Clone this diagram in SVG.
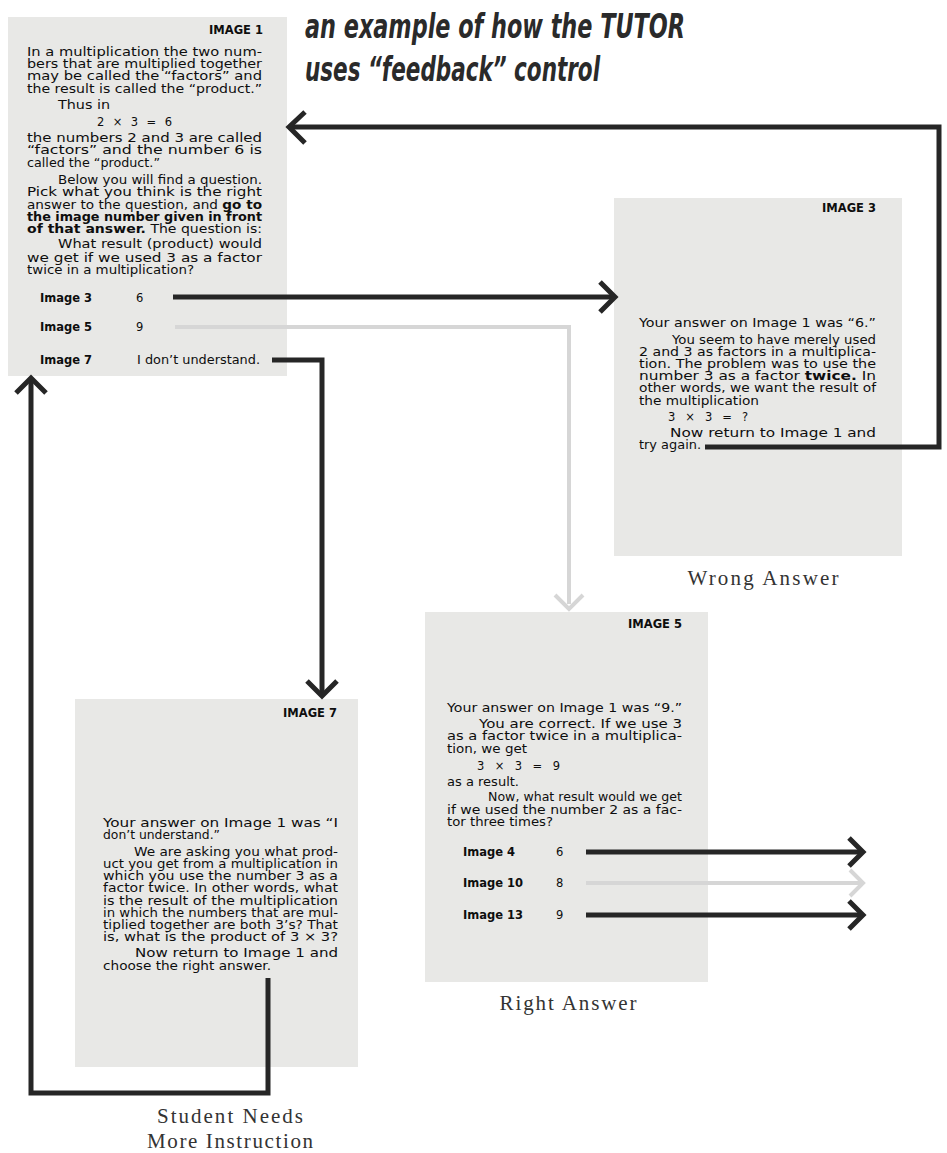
<svg xmlns="http://www.w3.org/2000/svg" width="947" height="1153" viewBox="0 0 947 1153">
<style>
.panel{fill:#e8e8e6}
.t{font-family:"DejaVu Sans","Liberation Sans",sans-serif;font-size:11.5px;fill:#0e0e0e}
.b{font-weight:bold}
.hd{font-family:"DejaVu Sans","Liberation Sans",sans-serif;font-size:11.5px;font-weight:bold;fill:#0e0e0e;text-anchor:end}
.cap{font-family:"Liberation Serif",serif;font-size:21px;fill:#333;text-anchor:middle}
.title{font-family:"Liberation Sans Narrow","DejaVu Sans Condensed","Liberation Sans",sans-serif;font-size:33px;font-style:italic;font-weight:bold;fill:#2a2a2a}
.ln{fill:none;stroke:#262626;stroke-width:5;stroke-linejoin:miter}
.fd{fill:none;stroke:#d6d6d6;stroke-width:4;stroke-linejoin:miter}
</style>
<rect width="947" height="1153" fill="#ffffff"/>
<g id="title">
<text class="title" x="305" y="38" textLength="380" lengthAdjust="spacingAndGlyphs">an example of how the TUTOR</text>
<text class="title" x="305" y="81" textLength="295" lengthAdjust="spacingAndGlyphs">uses “feedback” control</text>
</g>
<g id="image1">
<rect class="panel" x="8" y="17" width="279" height="359"/>
<text class="hd" x="263" y="34">IMAGE 1</text>
<text class="t" x="27" y="56" textLength="235" lengthAdjust="spacingAndGlyphs">In a multiplication the two num-</text>
<text class="t" x="27" y="68" textLength="235" lengthAdjust="spacingAndGlyphs">bers that are multiplied together</text>
<text class="t" x="27" y="80" textLength="235" lengthAdjust="spacingAndGlyphs">may be called the “factors” and</text>
<text class="t" x="27" y="93" textLength="235" lengthAdjust="spacingAndGlyphs">the result is called the “product.”</text>
<text class="t" x="58" y="109" textLength="52" lengthAdjust="spacingAndGlyphs">Thus in</text>
<text class="t" x="97" y="126" textLength="75" lengthAdjust="spacing">2 × 3 = 6</text>
<text class="t" x="27" y="142" textLength="235" lengthAdjust="spacingAndGlyphs">the numbers 2 and 3 are called</text>
<text class="t" x="27" y="154" textLength="235" lengthAdjust="spacingAndGlyphs">“factors” and the number 6 is</text>
<text class="t" x="27" y="167" textLength="133" lengthAdjust="spacingAndGlyphs">called the “product.”</text>
<text class="t" x="58" y="184" textLength="204" lengthAdjust="spacingAndGlyphs">Below you will find a question.</text>
<text class="t" x="27" y="196" textLength="235" lengthAdjust="spacingAndGlyphs">Pick what you think is the right</text>
<text class="t" x="27" y="209" textLength="235" lengthAdjust="spacingAndGlyphs">answer to the question, and <tspan class="b">go to</tspan></text>
<text class="t b" x="27" y="221" textLength="235" lengthAdjust="spacingAndGlyphs">the image number given in front</text>
<text class="t" x="27" y="233" textLength="235" lengthAdjust="spacingAndGlyphs"><tspan class="b">of that answer.</tspan> The question is:</text>
<text class="t" x="58" y="248" textLength="204" lengthAdjust="spacingAndGlyphs">What result (product) would</text>
<text class="t" x="27" y="262" textLength="235" lengthAdjust="spacingAndGlyphs">we get if we used 3 as a factor</text>
<text class="t" x="27" y="274" textLength="167" lengthAdjust="spacingAndGlyphs">twice in a multiplication?</text>
<text class="t b" x="40" y="302">Image 3</text>
<text class="t" x="136" y="302">6</text>
<text class="t b" x="40" y="331">Image 5</text>
<text class="t" x="136" y="331">9</text>
<text class="t b" x="40" y="364">Image 7</text>
<text class="t" x="137" y="364" textLength="123" lengthAdjust="spacingAndGlyphs">I don’t understand.</text>
</g>
<g id="image3">
<rect class="panel" x="614" y="198" width="288" height="358"/>
<text class="hd" x="876" y="212">IMAGE 3</text>
<text class="t" x="639" y="327" textLength="237" lengthAdjust="spacingAndGlyphs">Your answer on Image 1 was “6.”</text>
<text class="t" x="672" y="344" textLength="204" lengthAdjust="spacingAndGlyphs">You seem to have merely used</text>
<text class="t" x="639" y="356" textLength="237" lengthAdjust="spacingAndGlyphs">2 and 3 as factors in a multiplica-</text>
<text class="t" x="639" y="368" textLength="237" lengthAdjust="spacingAndGlyphs">tion. The problem was to use the</text>
<text class="t" x="639" y="380" textLength="237" lengthAdjust="spacingAndGlyphs">number 3 as a factor <tspan class="b">twice.</tspan> In</text>
<text class="t" x="639" y="392" textLength="237" lengthAdjust="spacingAndGlyphs">other words, we want the result of</text>
<text class="t" x="639" y="405" textLength="120" lengthAdjust="spacingAndGlyphs">the multiplication</text>
<text class="t" x="668" y="421" textLength="80" lengthAdjust="spacing">3 × 3 = ?</text>
<text class="t" x="670" y="437" textLength="206" lengthAdjust="spacingAndGlyphs">Now return to Image 1 and</text>
<text class="t" x="639" y="449" textLength="62" lengthAdjust="spacingAndGlyphs">try again.</text>
<text class="cap" x="763" y="585" textLength="151" lengthAdjust="spacing">Wrong Answer</text>
</g>
<g id="image5">
<rect class="panel" x="425" y="612" width="283" height="370"/>
<text class="hd" x="682" y="628">IMAGE 5</text>
<text class="t" x="447" y="712" textLength="235" lengthAdjust="spacingAndGlyphs">Your answer on Image 1 was “9.”</text>
<text class="t" x="479" y="728" textLength="203" lengthAdjust="spacingAndGlyphs">You are correct. If we use 3</text>
<text class="t" x="447" y="740" textLength="235" lengthAdjust="spacingAndGlyphs">as a factor twice in a multiplica-</text>
<text class="t" x="447" y="753" textLength="80" lengthAdjust="spacingAndGlyphs">tion, we get</text>
<text class="t" x="477" y="770" textLength="83" lengthAdjust="spacing">3 × 3 = 9</text>
<text class="t" x="447" y="786" textLength="72" lengthAdjust="spacingAndGlyphs">as a result.</text>
<text class="t" x="488" y="801" textLength="194" lengthAdjust="spacingAndGlyphs">Now, what result would we get</text>
<text class="t" x="447" y="814" textLength="235" lengthAdjust="spacingAndGlyphs">if we used the number 2 as a fac-</text>
<text class="t" x="447" y="826" textLength="106" lengthAdjust="spacingAndGlyphs">tor three times?</text>
<text class="t b" x="463" y="856">Image 4</text>
<text class="t" x="556" y="856">6</text>
<text class="t b" x="463" y="887">Image 10</text>
<text class="t" x="556" y="887">8</text>
<text class="t b" x="463" y="919">Image 13</text>
<text class="t" x="556" y="919">9</text>
<text class="cap" x="568" y="1010" textLength="137" lengthAdjust="spacing">Right Answer</text>
</g>
<g id="image7">
<rect class="panel" x="75" y="699" width="283" height="368"/>
<text class="hd" x="337" y="717">IMAGE 7</text>
<text class="t" x="103" y="827" textLength="235" lengthAdjust="spacingAndGlyphs">Your answer on Image 1 was “I</text>
<text class="t" x="103" y="839" textLength="117" lengthAdjust="spacingAndGlyphs">don’t understand.”</text>
<text class="t" x="134" y="856" textLength="204" lengthAdjust="spacingAndGlyphs">We are asking you what prod-</text>
<text class="t" x="103" y="868" textLength="235" lengthAdjust="spacingAndGlyphs">uct you get from a multiplication in</text>
<text class="t" x="103" y="880" textLength="235" lengthAdjust="spacingAndGlyphs">which you use the number 3 as a</text>
<text class="t" x="103" y="892" textLength="235" lengthAdjust="spacingAndGlyphs">factor twice. In other words, what</text>
<text class="t" x="103" y="905" textLength="235" lengthAdjust="spacingAndGlyphs">is the result of the multiplication</text>
<text class="t" x="103" y="917" textLength="235" lengthAdjust="spacingAndGlyphs">in which the numbers that are mul-</text>
<text class="t" x="103" y="929" textLength="235" lengthAdjust="spacingAndGlyphs">tiplied together are both 3’s? That</text>
<text class="t" x="103" y="941" textLength="235" lengthAdjust="spacingAndGlyphs">is, what is the product of 3 × 3?</text>
<text class="t" x="135" y="957" textLength="203" lengthAdjust="spacingAndGlyphs">Now return to Image 1 and</text>
<text class="t" x="103" y="970" textLength="168" lengthAdjust="spacingAndGlyphs">choose the right answer.</text>
<text class="cap" x="230" y="1123" textLength="146" lengthAdjust="spacing">Student Needs</text>
<text class="cap" x="230" y="1148" textLength="166" lengthAdjust="spacing">More Instruction</text>
</g>
<g id="connectors">
<path class="ln" d="M705,447 H939 V127 H290"/>
<polyline class="ln" points="305,112 289,127 305,143"/>
<path class="ln" d="M173,297 H613"/>
<polyline class="ln" points="600,282 615,297 600,312"/>
<path class="fd" d="M175,327 H569 V604"/>
<polyline class="fd" points="555,595 569,609 583,595"/>
<path class="ln" d="M272,360 H322 V694"/>
<polyline class="ln" points="307,681 322,696 337,681"/>
<path class="ln" d="M268,978 V1093 H31 V380"/>
<polyline class="ln" points="16,393 31,378 46,393"/>
<path class="ln" d="M586,852 H862"/>
<polyline class="ln" points="849,838 863,852 849,866"/>
<path class="fd" d="M586,883 H862"/>
<polyline class="fd" points="850,870 863,883 850,896"/>
<path class="ln" d="M586,915 H862"/>
<polyline class="ln" points="849,901 863,915 849,929"/>
</g>
</svg>
